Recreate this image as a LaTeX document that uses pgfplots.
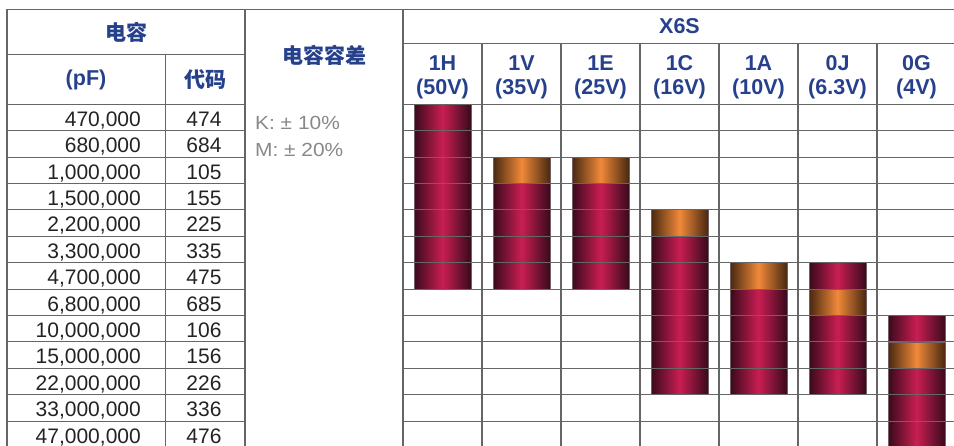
\documentclass[border=0pt]{standalone}
\usepackage{fontspec}
\setmainfont{Liberation Sans}
\newfontfamily\cjk{Noto Sans CJK SC}
\usepackage{graphicx}
\usepackage{pgfplots}
\pgfplotsset{compat=1.18}
\definecolor{hdr}{RGB}{38,64,140}
\definecolor{gridc}{RGB}{102,102,102}
\definecolor{txt}{RGB}{35,35,35}
\definecolor{tol}{RGB}{136,136,136}
\definecolor{redE}{RGB}{56,10,28}
\definecolor{redM}{RGB}{201,30,82}
\definecolor{orE}{RGB}{72,40,16}
\definecolor{orM}{RGB}{240,137,58}
\definecolor{barline}{RGB}{115,95,100}

\pgfplotsset{
  redbar/.style={draw=barline, line width=0.6pt, left color=redE, right color=redE, middle color=redM},
  orgbar/.style={draw=barline, line width=0.6pt, left color=orE, right color=orE, middle color=orM}}

\begin{document}
\begin{tikzpicture}
\useasboundingbox (0pt,0pt) rectangle (954pt,445pt);
\clip (0pt,0pt) rectangle (954pt,445pt);
\begin{scope}[x=1pt,y=1pt,gridc,line width=1.1pt]
\draw (7,435.7) -- (960,435.7);
\draw (7,435.7) -- (7,-5);
\draw (245,435.7) -- (245,-5);
\draw (165.7,390.7) -- (165.7,-5);
\draw (7,390.7) -- (245,390.7);
\draw (403,435.7) -- (403,340.7);
\draw (403,401.7) -- (960,401.7);
\foreach \i in {1,...,7} \draw ({403+79*\i},401.7) -- ({403+79*\i},340.7);
\foreach \r in {0,...,13} \draw (7,{340.7-26.4*\r}) -- (245,{340.7-26.4*\r});
\end{scope}

% x: 0=1H(50V) 1=1V(35V) 2=1E(25V) 3=1C(16V) 4=1A(10V) 5=0J(6.3V) 6=0G(4V)
% y: row index, 0 = 470,000 pF ... 12 = 47,000,000 pF (bar ends at lower row edge)
\begin{axis}[scale only axis, width=553pt, height=343.2pt,
  at={(403pt,340.7pt)}, anchor=north west,
  xmin=-0.5, xmax=6.5, ymin=0, ymax=13, y dir=reverse,
  ybar, bar width=0.7215, bar shift=0pt, clip=false,
  axis line style={draw=none}, axis on top,
  xtick={-0.5,0.5,...,6.5}, ytick={0,1,...,13},
  xticklabels={}, yticklabels={}, major tick length=0pt,
  grid=major, major grid style={gridc, line width=1.1pt}]
% full extent of each bar (lower end row)
\addplot[redbar] coordinates {(0,7)};
\addplot[redbar] coordinates {(1,7)};
\addplot[redbar] coordinates {(2,7)};
\addplot[redbar] coordinates {(3,11)};
\addplot[redbar] coordinates {(4,11)};
\addplot[redbar] coordinates {(5,11)};
\addplot[redbar] coordinates {(6,13)};
% orange cell (lower edge)
\addplot[orgbar] coordinates {(1,3)};
\addplot[orgbar] coordinates {(2,3)};
\addplot[orgbar] coordinates {(3,5)};
\addplot[orgbar] coordinates {(4,7)};
\addplot[orgbar] coordinates {(5,8)};
\addplot[orgbar] coordinates {(6,10)};
% red cell above the orange one
\addplot[redbar] coordinates {(5,7)};
\addplot[redbar] coordinates {(6,9)};
% empty rows above each bar (upper start row)
\addplot[fill=white, draw=none, bar width=0.76] coordinates {(1,2) (2,2) (3,4) (4,6) (5,6) (6,8)};
\end{axis}

\begin{scope}[x=1pt,y=1pt]
\draw[gridc, line width=1.1pt] (403,340.7) -- (403,-5);
\node[hdr, font=\cjk\bfseries\fontsize{21}{24}\selectfont] at (126,413) {电容};
\node[hdr, font=\bfseries\fontsize{21.5}{24}\selectfont] at (86,365.5) {(pF)};
\node[hdr, font=\cjk\bfseries\fontsize{21}{24}\selectfont] at (205,365.5) {代码};
\node[hdr, font=\cjk\bfseries\fontsize{21}{24}\selectfont] at (324,390) {电容容差};
\node[hdr, font=\bfseries\fontsize{21.5}{24}\selectfont] at (679.5,418.5) {X6S};
\foreach \a/\b [count=\i from 0] in {1H/(50V),1V/(35V),1E/(25V),1C/(16V),1A/(10V),0J/(6.3V),0G/(4V)}{
  \node[hdr, font=\bfseries\fontsize{21.5}{24}\selectfont, anchor=base] at ({442.5+79*\i},374.3) {\a};
  \node[hdr, font=\bfseries\fontsize{21.5}{24}\selectfont, anchor=base] at ({442.5+79*\i},350.7) {\b};
}
\foreach \c/\d [count=\r from 0] in {{470,000}/474,{680,000}/684,{1,000,000}/105,{1,500,000}/155,{2,200,000}/225,{3,300,000}/335,{4,700,000}/475,{6,800,000}/685,{10,000,000}/106,{15,000,000}/156,{22,000,000}/226,{33,000,000}/336,{47,000,000}/476}{
  \node[txt, font=\fontsize{21}{24}\selectfont, anchor=base east, inner sep=0pt] at (141,{318.7-26.4*\r}) {\c};
  \node[txt, font=\fontsize{21}{24}\selectfont, anchor=base, inner sep=0pt] at (204,{318.7-26.4*\r}) {\d};
}
\node[tol, font=\fontsize{19}{22}\selectfont, anchor=base west, inner sep=0pt] at (255,315.5) {\scalebox{1.1}[1]{K: ± 10\%}};
\node[tol, font=\fontsize{19}{22}\selectfont, anchor=base west, inner sep=0pt] at (255,288.5) {\scalebox{1.1}[1]{M: ± 20\%}};
\end{scope}
\end{tikzpicture}
\end{document}
